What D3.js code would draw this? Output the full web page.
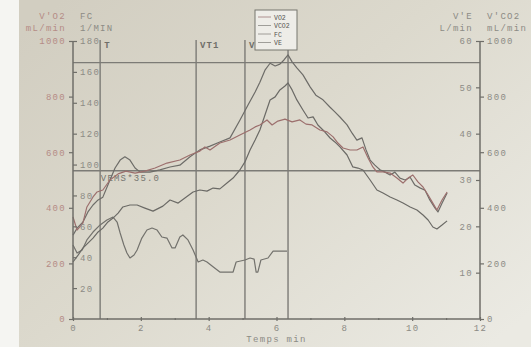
<!DOCTYPE html>
<html>
<head>
<meta charset="utf-8">
<script src="https://cdn.jsdelivr.net/npm/d3@7"></script>
<style>
  html, body { margin: 0; padding: 0; background: #f4f4f1; }
  svg { display: block; }
  text { font-family: "Liberation Mono", "DejaVu Sans Mono", monospace; }
</style>
</head>
<body>
<svg id="chart" width="531" height="347"></svg>
<script>
// Exercise test recording: [time (min), value] per signal
const vo2 = [ // V'O2, mL/min
  [0,367],[0.12,320],[0.29,345],[0.41,403],[0.59,439],[0.71,457],[0.88,464],[1.09,500],[1.33,522],
  [1.56,532],[1.83,525],[2.12,532],[2.42,543],[2.77,561],[3.15,572],[3.45,590],[3.74,604],[3.89,619],
  [4.04,608],[4.33,633],[4.63,644],[4.92,662],[5.22,680],[5.37,691],[5.51,698],[5.72,716],[5.87,698],
  [6.04,712],[6.25,719],[6.46,709],[6.69,716],[6.87,701],[7.05,698],[7.28,680],[7.49,673],[7.67,655],
  [7.81,633],[7.96,615],[8.17,608],[8.37,608],[8.55,619],[8.70,579],[8.84,547],[8.96,529],[9.14,529],
  [9.35,525],[9.55,507],[9.73,489],[9.88,507],[10.02,518],[10.17,493],[10.32,475],[10.47,446],
  [10.61,417],[10.73,392],[10.88,428],[11.03,457]
];
const vco2 = [ // V'CO2, mL/min
  [0,205],[0.15,230],[0.29,255],[0.44,273],[0.59,291],[0.74,313],[0.88,327],[1.03,349],[1.18,363],
  [1.33,381],[1.47,403],[1.68,410],[1.89,410],[2.12,399],[2.36,388],[2.65,406],[2.86,428],[3.10,417],
  [3.30,435],[3.54,457],[3.74,464],[3.95,460],[4.13,471],[4.33,468],[4.54,489],[4.72,507],[4.92,536],
  [5.07,565],[5.22,608],[5.37,644],[5.51,680],[5.66,734],[5.81,788],[5.96,799],[6.10,824],[6.25,838],
  [6.34,849],[6.46,824],[6.60,788],[6.78,752],[6.93,723],[7.08,727],[7.22,698],[7.37,680],[7.58,651],
  [7.72,637],[7.87,619],[8.08,590],[8.25,547],[8.40,543],[8.55,536],[8.76,500],[8.96,464],[9.14,453],
  [9.35,439],[9.55,428],[9.73,417],[9.94,403],[10.14,392],[10.32,374],[10.47,356],[10.61,331],
  [10.73,324],[10.88,338],[11.03,353]
];
const fc = [ // heart rate, 1/min
  [0,47.9],[0.12,42.7],[0.27,44.7],[0.41,51.2],[0.59,56.3],[0.80,60.9],[1.00,64.1],[1.18,66.0],
  [1.30,62.8],[1.39,55.7],[1.50,47.9],[1.59,42.7],[1.68,39.5],[1.80,41.4],[1.89,44.7],[2.03,52.4],
  [2.18,57.6],[2.33,58.9],[2.48,57.6],[2.62,53.1],[2.77,52.4],[2.92,46.0],[3.01,46.0],[3.15,53.1],
  [3.24,54.4],[3.39,51.2],[3.54,44.7],[3.69,36.9],[3.83,38.2],[3.95,36.9],[4.10,34.3],[4.33,30.4],
  [4.72,30.4],[4.81,36.9],[5.07,38.2],[5.22,39.5],[5.34,38.8],[5.40,30.4],[5.45,30.4],[5.54,38.2],
  [5.75,39.5],[5.90,44.0],[6.31,44.0]
];
const ve = [ // V'E, L/min
  [0,18.1],[0.12,19.6],[0.29,20.9],[0.44,23.1],[0.59,24.6],[0.74,25.7],[0.88,26.3],[1.09,30.0],
  [1.24,32.6],[1.39,34.3],[1.53,35.0],[1.68,34.3],[1.83,32.6],[1.98,31.7],[2.27,31.7],[2.56,32.2],
  [2.86,32.8],[3.15,33.2],[3.45,35.0],[3.74,36.5],[4.04,37.3],[4.33,38.2],[4.63,39.1],[4.92,42.9],
  [5.16,46.2],[5.37,49.0],[5.51,51.1],[5.66,53.7],[5.81,55.2],[5.96,54.6],[6.10,55.0],[6.22,55.9],
  [6.34,57.0],[6.46,55.5],[6.60,54.2],[6.78,52.7],[6.99,50.1],[7.16,48.3],[7.37,47.3],[7.58,45.7],
  [7.72,44.7],[7.87,43.6],[8.08,41.9],[8.23,40.1],[8.37,38.6],[8.52,39.1],[8.64,36.5],[8.76,34.3],
  [8.90,33.2],[9.05,32.2],[9.20,31.7],[9.35,31.1],[9.49,31.7],[9.64,30.4],[9.79,30.0],[9.94,30.6],
  [10.08,28.9],[10.23,28.3],[10.38,27.8],[10.52,25.7],[10.67,24.0],[10.76,23.1],[10.88,25.0],[11.03,27.2]
];

// Event markers (min) and reference levels
const eventTimes = [0.8, 3.63, 5.07, 6.34];
const eventLabels = ["T", "VT1", "VT2", ""];
const fcMaxLine = 166;      // 1/min
const mvvLine = 32;         // L/min
const mvvLabel = "VEMS*35.0";

// Tick sets
const timeTicks = [0, 2, 4, 6, 8, 10, 12];
const timeMinor = [1, 3, 5, 7, 9, 11];
const o2Ticks = [0, 200, 400, 600, 800, 1000];
const fcTicks = [20, 40, 60, 80, 100, 120, 140, 160, 180];
const veTicks = [10, 20, 30, 40, 50, 60];
const legendNames = ["VO2", "VCO2", "FC", "VE"];

const svg = d3.select("#chart");
const W = 531, H = 347;
const plotLeft = 73, plotRight = 480, plotTop = 41, plotBottom = 319;

// paper background
const defs = svg.append("defs");
const grad = defs.append("linearGradient").attr("id", "paper")
  .attr("x1", 0).attr("y1", 0.1).attr("x2", 1).attr("y2", 0.9);
grad.append("stop").attr("offset", 0).attr("stop-color", "#d2cec1");
grad.append("stop").attr("offset", 0.45).attr("stop-color", "#dcd9cd");
grad.append("stop").attr("offset", 1).attr("stop-color", "#ebeae3");
svg.append("rect").attr("width", W).attr("height", H).attr("fill", "#f5f5f2");
svg.append("rect").attr("x", 19).attr("y", 0).attr("width", W - 19).attr("height", H).attr("fill", "url(#paper)");

const x = d3.scaleLinear().domain([0, 12]).range([plotLeft, plotRight]);
const yO2 = d3.scaleLinear().domain([0, 1000]).range([plotBottom, plotTop]);
const yFC = d3.scaleLinear().domain([0, 180]).range([plotBottom, plotTop]);
const yVE = d3.scaleLinear().domain([0, 60]).range([plotBottom, plotTop]);

const axisCol = "#6f6e69";
const textCol = "#8c8b85";
const redText = "#b58c86";
const fontSize = "9px";
const intFmt = d3.format("d");

function styleAxis(g, col) {
  g.select(".domain").remove();
  g.selectAll("line").attr("stroke", axisCol).attr("stroke-width", 1.2);
  g.selectAll("text").attr("fill", col).attr("font-size", fontSize)
    .attr("letter-spacing", "1.3px")
    .attr("font-family", "Liberation Mono, monospace");
}

// reference lines
const refCol = "#7c7b76";
svg.append("line").attr("x1", plotLeft).attr("x2", plotRight)
  .attr("y1", yFC(fcMaxLine)).attr("y2", yFC(fcMaxLine))
  .attr("stroke", refCol).attr("stroke-width", 1.4);
svg.append("line").attr("x1", plotLeft).attr("x2", plotRight)
  .attr("y1", yVE(mvvLine)).attr("y2", yVE(mvvLine))
  .attr("stroke", refCol).attr("stroke-width", 1.4);
svg.append("text").attr("x", x(0.82)).attr("y", yVE(mvvLine) + 10)
  .attr("fill", "#76756f").attr("font-size", "9px").attr("letter-spacing", "1.2px")
  .text(mvvLabel);

eventTimes.forEach((t, i) => {
  svg.append("line").attr("x1", x(t)).attr("x2", x(t))
    .attr("y1", plotTop - 1).attr("y2", plotBottom)
    .attr("stroke", refCol).attr("stroke-width", 1.4);
  if (eventLabels[i]) {
    svg.append("text").attr("x", x(t) + 4).attr("y", plotTop + 7)
      .attr("fill", "#6f6e69").attr("font-size", "9px").attr("letter-spacing", "1px")
      .attr("font-weight", "bold")
      .text(eventLabels[i]);
  }
});

// curves
const lineGen = yScale => d3.line().x(d => x(d[0])).y(d => yScale(d[1]));
const curves = [
  { data: fc, y: yFC, color: "#73726d" },
  { data: vco2, y: yO2, color: "#6b6a66" },
  { data: ve, y: yVE, color: "#6d6c68" },
  { data: vo2, y: yO2, color: "#9c6f6d" }
];
curves.forEach(c => {
  svg.append("path").datum(c.data).attr("d", lineGen(c.y))
    .attr("fill", "none").attr("stroke", c.color).attr("stroke-width", 1.2)
    .attr("stroke-linejoin", "round");
});

// left axes
svg.append("line").attr("x1", plotLeft).attr("x2", plotLeft).attr("y1", plotTop).attr("y2", plotBottom)
  .attr("stroke", axisCol).attr("stroke-width", 1.5);
svg.append("g").attr("transform", `translate(${plotLeft},0)`)
  .call(d3.axisLeft(yO2).tickValues(o2Ticks).tickSize(4).tickPadding(3).tickFormat(intFmt))
  .call(g => styleAxis(g, redText));
svg.append("g").attr("transform", `translate(${plotLeft},0)`)
  .call(d3.axisRight(yFC).tickValues(fcTicks).tickSize(4).tickPadding(3).tickFormat(intFmt))
  .call(g => styleAxis(g, textCol));

// right axes
svg.append("line").attr("x1", plotRight).attr("x2", plotRight).attr("y1", plotTop).attr("y2", plotBottom)
  .attr("stroke", axisCol).attr("stroke-width", 1.5);
svg.append("g").attr("transform", `translate(${plotRight},0)`)
  .call(d3.axisLeft(yVE).tickValues(veTicks).tickSize(4).tickPadding(3).tickFormat(intFmt))
  .call(g => styleAxis(g, textCol));
svg.append("g").attr("transform", `translate(${plotRight},0)`)
  .call(d3.axisRight(yO2).tickValues(o2Ticks).tickSize(4).tickPadding(3).tickFormat(intFmt))
  .call(g => styleAxis(g, textCol));

// time axis
svg.append("line").attr("x1", plotLeft).attr("x2", plotRight).attr("y1", plotBottom).attr("y2", plotBottom)
  .attr("stroke", axisCol).attr("stroke-width", 1.5);
svg.append("g").attr("transform", `translate(0,${plotBottom - 2})`)
  .call(d3.axisBottom(x).tickValues(timeTicks).tickSize(4).tickPadding(4).tickFormat(intFmt))
  .call(g => styleAxis(g, textCol));
svg.append("g").attr("transform", `translate(0,${plotBottom - 1})`)
  .call(d3.axisBottom(x).tickValues(timeMinor).tickSize(2).tickFormat(""))
  .call(g => styleAxis(g, textCol));
svg.append("text").attr("x", x(6)).attr("y", 342).attr("text-anchor", "middle")
  .attr("fill", textCol).attr("font-size", fontSize).attr("letter-spacing", "1.3px")
  .text("Temps  min");

// axis headers
const header = (tx, ty, anchor, txt, col) =>
  svg.append("text").attr("x", tx).attr("y", ty).attr("text-anchor", anchor)
    .attr("fill", col).attr("font-size", fontSize).attr("letter-spacing", "1.3px").text(txt);
header(66, 19, "end", "V'O2", redText);
header(66, 31, "end", "mL/min", redText);
header(80, 19, "start", "FC", textCol);
header(80, 31, "start", "1/MIN", textCol);
header(473, 19, "end", "V'E", textCol);
header(473, 31, "end", "L/min", textCol);
header(487, 19, "start", "V'CO2", textCol);
header(487, 31, "start", "mL/min", textCol);

// legend
const lg = svg.append("g").attr("transform", "translate(255,10)");
lg.append("rect").attr("width", 42).attr("height", 40)
  .attr("fill", "#eeede8").attr("stroke", "#77766f").attr("stroke-width", 1);
legendNames.forEach((n, i) => {
  const yy = 7 + i * 8.5;
  lg.append("line").attr("x1", 3).attr("x2", 16).attr("y1", yy).attr("y2", yy)
    .attr("stroke", i === 0 ? "#9c7a78" : "#8a8984").attr("stroke-width", 0.8);
  lg.append("text").attr("x", 19).attr("y", yy + 2.5).attr("fill", "#55544f")
    .attr("font-size", "6.5px").attr("font-family", "Liberation Sans, sans-serif").text(n);
});
</script>
</body>
</html>
